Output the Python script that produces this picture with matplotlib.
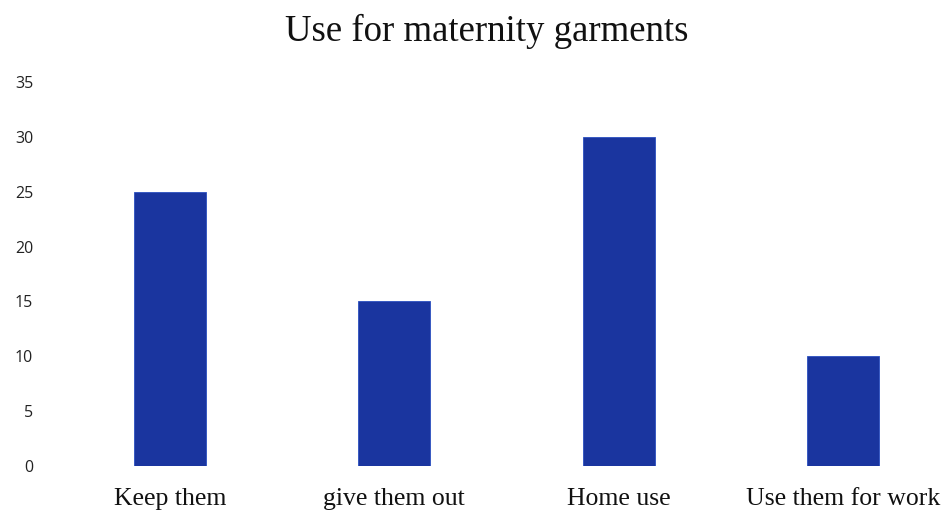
import matplotlib.pyplot as plt
import numpy as np

categories = ['Keep them', 'give them out', 'Home use', 'Use them for work']
values = [25, 15, 30, 10]
yticks = [0, 5, 10, 15, 20, 25, 30, 35]

fig = plt.figure(figsize=(9.44, 5.14), dpi=100)
ax = fig.add_axes([47 / 944, 48 / 514, 888 / 944, 384 / 514])

x = np.arange(len(categories))
ax.bar(x, values, width=0.32, color='#1a359f', edgecolor='#2a4fc0', linewidth=0.6)

ax.set_xlim(-0.548, 3.41)
ax.set_ylim(0, 35)
ax.set_yticks(yticks)
ax.set_yticklabels([str(t) for t in yticks], fontfamily='Open Sans', fontsize=11.5, color='#222222')
ax.set_xticks(x)
ax.set_xticklabels(categories, fontfamily='Liberation Serif', fontsize=18.5, color='#111111')
ax.tick_params(axis='y', length=0, pad=10)
ax.tick_params(axis='x', length=0, pad=16)
for s in ax.spines.values():
    s.set_visible(False)

fig.text(487 / 944, 1 - 31 / 514, 'Use for maternity garments', fontfamily='Liberation Serif',
         fontsize=26.5, ha='center', va='center', color='#111111')

fig.savefig('out.png', dpi=100)
